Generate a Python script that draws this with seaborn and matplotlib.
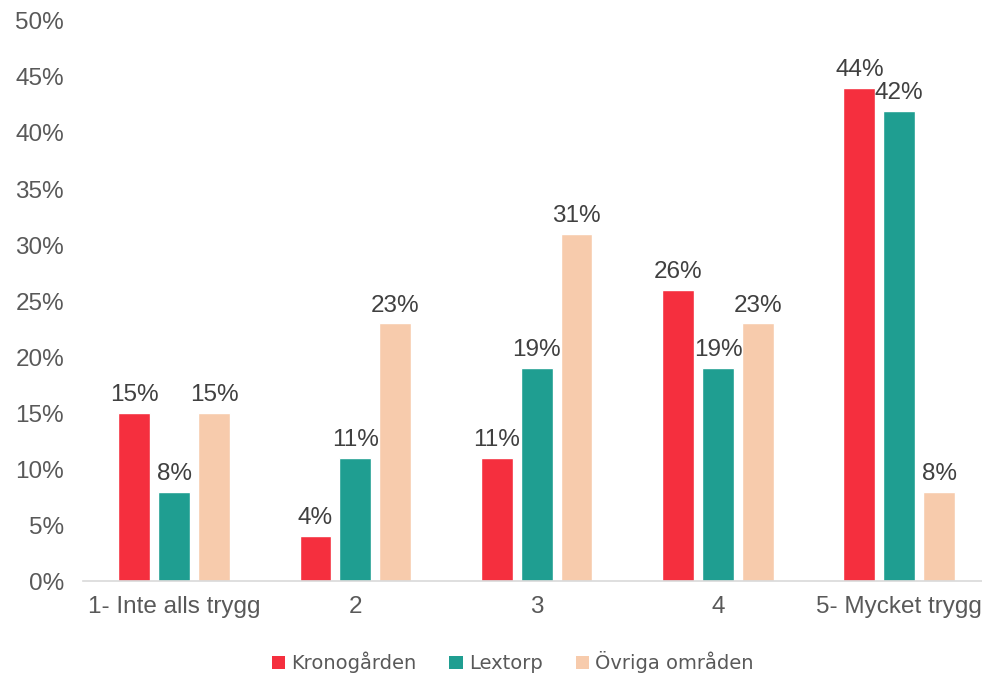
import pandas as pd
import matplotlib
matplotlib.use("Agg")
import matplotlib.pyplot as plt
import seaborn as sns
from matplotlib.ticker import PercentFormatter
from matplotlib.patches import Patch

# Data
categories = ["1- Inte alls trygg", "2", "3", "4", "5- Mycket trygg"]
areas = ["Kronogården", "Lextorp", "Övriga områden"]
kronogarden = [15, 4, 11, 26, 44]
lextorp = [8, 11, 19, 19, 42]
ovriga = [15, 23, 31, 23, 8]
colors = ["#F52F3E", "#1F9E91", "#F7CBAC"]

sns.set_theme(style="white")
plt.rcParams['font.family'] = ['Liberation Sans', 'DejaVu Sans']

rows = []
for area, vals in zip(areas, [kronogarden, lextorp, ovriga]):
    for cat, v in zip(categories, vals):
        rows.append({"Kategori": cat, "Område": area, "Andel": v})
df = pd.DataFrame(rows)

fig = plt.figure(figsize=(9.82, 6.75), dpi=100)
ax = fig.add_axes([0.085, 0.139, 0.923, 0.830])

sns.barplot(data=df, x="Kategori", y="Andel", hue="Område", order=categories,
            hue_order=areas, palette=colors, width=0.66, gap=0.2,
            saturation=1, legend=False, ax=ax)

for cont in ax.containers:
    ax.bar_label(cont, fmt='%d%%', padding=5, fontsize=17.5, color="#404040")

ax.set_ylim(0, 50)
ax.set_xlim(-0.5, 4.5)
ax.set_yticks(range(0, 51, 5))
ax.yaxis.set_major_formatter(PercentFormatter(decimals=0))
ax.set_xlabel("")
ax.set_ylabel("")
ax.tick_params(axis='y', labelsize=17.5, labelcolor="#595959", length=0, pad=14)
ax.tick_params(axis='x', labelsize=17.5, labelcolor="#595959", length=0, pad=11)

for side in ["left", "right", "top"]:
    ax.spines[side].set_visible(False)
ax.spines["bottom"].set_color("#D9D9D9")
ax.spines["bottom"].set_linewidth(1.2)

handles = [Patch(facecolor=c, edgecolor="none") for c in colors]
fig.legend(handles, areas, loc="center", bbox_to_anchor=(0.522, 0.019), ncol=3,
           frameon=False, handlelength=0.7, handleheight=0.7, handletextpad=0.3,
           columnspacing=1.7, prop={"family": "DejaVu Sans", "size": 14},
           labelcolor="#595959")

fig.savefig("out.png", dpi=100)
